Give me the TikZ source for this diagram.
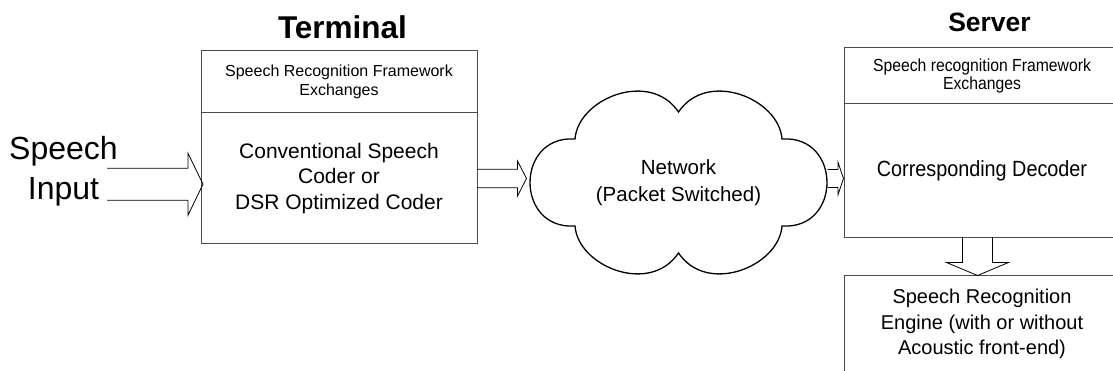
\documentclass[tikz,border=0pt]{standalone}
\usepackage{fontspec}
\setmainfont{Liberation Sans}
\newfontfamily\narrowsans[FakeStretch=0.9]{Liberation Sans}
\usetikzlibrary{positioning,calc}

\begin{document}
\begin{tikzpicture}[x=1pt,y=-1pt,
	box/.style={draw=black!70,line width=1pt,inner sep=0pt,outer sep=0pt,align=center,minimum width=276pt},
	title/.style={inner sep=0pt},
	cloudline/.style={draw,line width=1.3pt,line join=miter},
	blockarrow/.style={draw,line width=.8pt,line join=miter}]
	\useasboundingbox (0,0) rectangle (1113,371);
	% terminal
	\node[box,minimum height=62pt,font=\fontsize{16}{18.7}\selectfont] (termtop) at (339,82)
		{Speech Recognition Framework\\Exchanges};
	\node[box,minimum height=131pt,font=\fontsize{21}{25.3}\selectfont,below=0pt of termtop] (coder)
		{Conventional Speech\\Coder or\\DSR Optimized Coder};
	\node[title,font=\fontsize{31.5}{36}\bfseries\selectfont,above=12pt of termtop,xshift=3.5pt] (termtitle) {Terminal};
	\node[align=center,inner sep=0pt,font=\fontsize{32}{40}\selectfont] (speech) at (63.5,171) {Speech\\Input};
	\coordinate (src) at (107,184.2);
	% network
	\node[align=center,inner sep=0pt,outer sep=0pt,minimum width=296pt,minimum height=179pt,
		font=\fontsize{20.5}{26.7}\selectfont] (net) at (678.5,182.5) {Network\\(Packet Switched)};
	\draw[cloudline,shift={(net.center)}] (-103.5,-43.5)
		.. controls (-100.5,-84) and (-28.5,-113) .. (0,-70.5)
		.. controls (28.5,-113) and (100.5,-84) .. (103.5,-43.5)
		.. controls (163.5,-47.5) and (163.5,47.5) .. (103.5,43.5)
		.. controls (100.5,84) and (28.5,113) .. (0,70.5)
		.. controls (-28.5,113) and (-100.5,84) .. (-103.5,43.5)
		.. controls (-163.5,47.5) and (-163.5,-47.5) .. cycle;
	% server
	\node[box,minimum height=56pt,font=\narrowsans\fontsize{17.5}{18}\selectfont] (srvtop) at (982,76)
		{Speech recognition Framework\\Exchanges};
	\node[box,minimum height=133.5pt,font=\narrowsans\fontsize{22}{26}\selectfont,below=0pt of srvtop] (decoder)
		{Corresponding Decoder};
	\node[box,anchor=north,inner ysep=14pt,text depth=80pt,font=\fontsize{20}{25.5}\selectfont,below=38pt of decoder] (engine)
		{Speech Recognition\\Engine (with or without\\Acoustic front-end)};
	\node[title,font=\fontsize{26.5}{30}\bfseries\selectfont,above=16pt of srvtop,xshift=7.5pt] (srvtitle) {Server};
	% block arrows
	\draw[blockarrow] let \p1=(src), \p2=(coder.west) in
		(\x1,{\y1+16pt}) -- ({\x2-13pt},{\y1+16pt}) -- ({\x2-13pt},{\y1+31pt}) -- ({\x2+2pt},\y1)
		-- ({\x2-13pt},{\y1-31pt}) -- ({\x2-13pt},{\y1-16pt}) -- (\x1,{\y1-16pt});
	\draw[blockarrow] let \p1=(coder.east), \p2=(net.west) in
		(\x1,{\y1+9.2pt}) -- ({\x2-13pt},{\y1+9.2pt}) -- ({\x2-13pt},{\y1+17.5pt}) -- ({\x2-4pt},\y1)
		-- ({\x2-13pt},{\y1-17.5pt}) -- ({\x2-13pt},{\y1-9.2pt}) -- (\x1,{\y1-9.2pt});
	\draw[blockarrow] let \p1=(net.east), \p2=(decoder.west), \p3=(coder.east) in
		({\x1+1pt},{\y3+9pt}) -- ({\x2-6pt},{\y3+9pt}) -- ({\x2-6pt},{\y3+16.2pt}) -- ({\x2-.5pt},\y3)
		-- ({\x2-6pt},{\y3-16.2pt}) -- ({\x2-6pt},{\y3-9pt}) -- ({\x1+1pt},{\y3-9pt});
	\draw[blockarrow] let \p1=($(decoder.south)+(-4.5,0)$), \p2=(engine.north) in
		({\x1-15pt},\y1) -- ({\x1-15pt},{\y2+13pt}) -- ({\x1-31pt},{\y2+13pt}) -- (\x1,\y2)
		-- ({\x1+31pt},{\y2+13pt}) -- ({\x1+15pt},{\y2+13pt}) -- ({\x1+15pt},\y1);
\end{tikzpicture}
\end{document}
